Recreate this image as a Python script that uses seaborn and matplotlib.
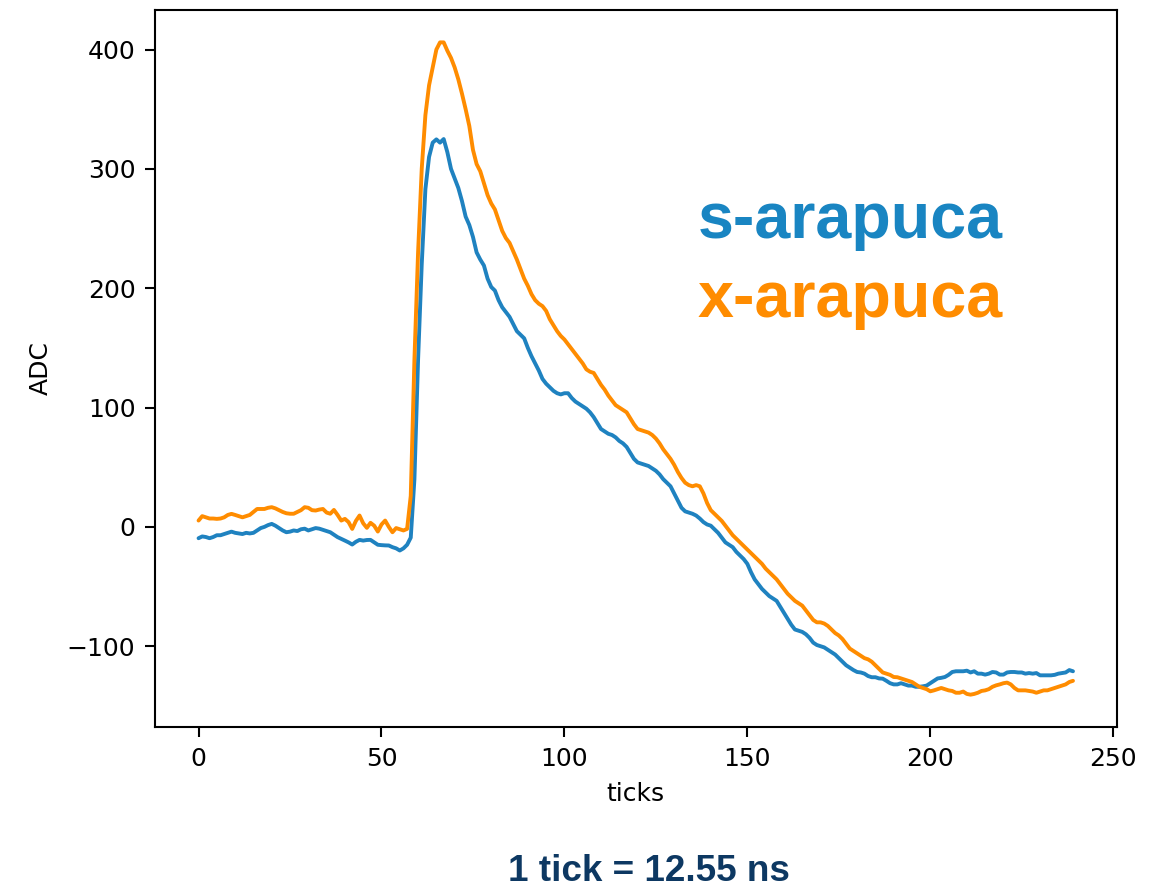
import numpy as np
import pandas as pd
import seaborn as sns
from matplotlib import pyplot as plt

# waveforms, one value per tick
s_arapuca = [
    -9.5, -8, -8.5, -9.5, -8.5, -7, -7, -6, -5, -4,
    -5, -5.5, -6, -5, -5.5, -5, -3, -1, 0, 1.5,
    2.5, 1, -1, -3, -4.5, -4, -3, -3.5, -2, -1.5,
    -3, -2, -1, -1.5, -2.5, -3.5, -4.5, -6.5, -8.6, -10,
    -11.5, -13, -14.8, -12.5, -10.9, -11.5, -11, -10.9, -13, -15,
    -15.3, -15.5, -15.6, -17, -18, -19.8, -18, -15, -9, 40,
    140, 220, 283, 310, 322, 324.7, 322, 325, 314, 300,
    292, 284, 273, 260, 253, 243, 230, 224, 219, 208,
    201, 198, 190, 184, 180, 176, 170, 164, 161, 158,
    150, 143, 137, 131, 124, 120, 117, 114, 112, 111,
    112, 112, 108, 105, 103, 101, 99, 96, 92, 87,
    82, 80, 78, 77, 75, 72, 70, 67, 62, 57,
    54, 53, 52, 51, 49, 47, 44, 40, 37, 34,
    28, 22, 16, 13, 12, 11, 9.5, 7, 4, 2,
    1, -2, -5, -9, -13, -15, -17, -21, -24, -27,
    -31, -38, -44, -48, -52, -55, -58, -60, -62, -67,
    -72, -77, -82, -86, -87, -88, -90, -93, -97, -99,
    -100, -101, -103, -105, -107, -110, -113, -116, -118, -120,
    -121.6, -122, -123, -125, -126, -126, -127, -127.2, -129, -131,
    -132, -132, -131, -132, -133, -133, -134, -134, -133.6, -133,
    -131, -129, -127, -126.5, -125.8, -124, -121.6, -121, -121, -121,
    -120.5, -122, -121, -123, -123, -123.8, -123, -121.6, -122, -123.8,
    -123.8, -122, -121.6, -121.6, -122, -122, -123, -122.5, -123, -122.5,
    -124.4, -124.4, -124.4, -124.4, -124, -123, -122.5, -122, -120, -121,
]

x_arapuca = [
    5.3, 9, 8, 7, 7, 6.7, 7, 8, 10, 10.9,
    10, 9, 8, 9, 10, 12.5, 15, 15, 15, 16,
    16.5, 15.5, 14, 12.5, 11.4, 11, 11, 12.5, 14, 16.5,
    16, 14, 13.7, 14.5, 15, 12, 11, 14.2, 10, 5.3,
    6.7, 4, -1.7, 5, 9.5, 3, -0.8, 3.4, 1, -3.9,
    2, 5.3, 0, -4.5, -1, -2, -3, -1.7, 26, 140,
    230, 300, 345, 370, 385, 400, 406, 406, 399, 393,
    385, 375, 363, 350, 336, 316, 304, 298, 288, 278,
    271, 266, 257, 248, 242, 238, 231, 224, 216, 208,
    202, 195, 190, 187, 185, 181, 174, 169, 164, 160,
    157, 153, 149, 145, 141, 137, 132, 130, 129, 124,
    119, 115, 110, 106, 102, 100, 98, 96, 91, 86,
    82, 81, 80, 79, 77, 74, 70, 65, 61, 57,
    52, 46, 41, 37, 35, 34, 35, 34, 28, 20,
    14, 11, 8, 5, 1, -3, -7, -10, -13, -16,
    -19, -22, -25, -28, -31, -35, -38, -41, -44, -48,
    -52, -56, -59, -62, -64, -66, -70, -74, -78, -80,
    -80, -81, -83, -86, -89, -91, -94, -98, -102, -104,
    -106, -108, -110, -111, -113, -116, -119, -122, -123, -124,
    -125.8, -126, -127, -128, -129, -130, -132, -134, -135, -136,
    -137.8, -137, -136, -135, -136, -137, -137.5, -139, -139, -138,
    -140, -140.6, -140, -139, -137.5, -137, -136, -134, -132.8, -132,
    -131, -130.5, -132, -135, -137, -137, -137, -137.5, -138, -139,
    -138, -137, -137, -136, -135, -134, -133, -132, -130, -129,
]

ticks = np.arange(len(s_arapuca))

blue = '#1f82c0'
orange = '#ff8c00'

sns.set_style("ticks")
plt.rcParams['font.family'] = ['DejaVu Sans']
plt.rcParams['text.color'] = 'black'
plt.rcParams['axes.labelcolor'] = 'black'
plt.rcParams['xtick.color'] = 'black'
plt.rcParams['ytick.color'] = 'black'

fig = plt.figure(figsize=(11.73, 8.88), dpi=100)
ax = fig.add_axes([0.132, 0.181, 0.820, 0.808])

sns.lineplot(x=ticks, y=s_arapuca, color=blue, linewidth=2.8, ax=ax)
sns.lineplot(x=ticks, y=x_arapuca, color=orange, linewidth=2.8, ax=ax)

ax.set_xticks([0, 50, 100, 150, 200, 250])
ax.set_yticks([-100, 0, 100, 200, 300, 400])
ax.set_xlabel('ticks', fontsize=18, labelpad=8)
ax.set_ylabel('ADC', fontsize=18, labelpad=10)
ax.tick_params(labelsize=18, length=7, width=1.5, pad=7, color='black', labelcolor='black')
for sp in ax.spines.values():
    sp.set_color('black')
    sp.set_linewidth(1.5)

fig.text(698/1173, 1-238/888, 's-arapuca', color='#1985c2', fontsize=46.5,
         fontweight='bold', family='Liberation Sans', va='baseline')
fig.text(698/1173, 1-317/888, 'x-arapuca', color=orange, fontsize=46.5,
         fontweight='bold', family='Liberation Sans', va='baseline')
fig.text(649/1173, 1-881/888, '1 tick = 12.55 ns', color='#0d3862', fontsize=26.6,
         fontweight='bold', family='Liberation Sans', va='baseline', ha='center')

plt.savefig('out.png', dpi=100)
